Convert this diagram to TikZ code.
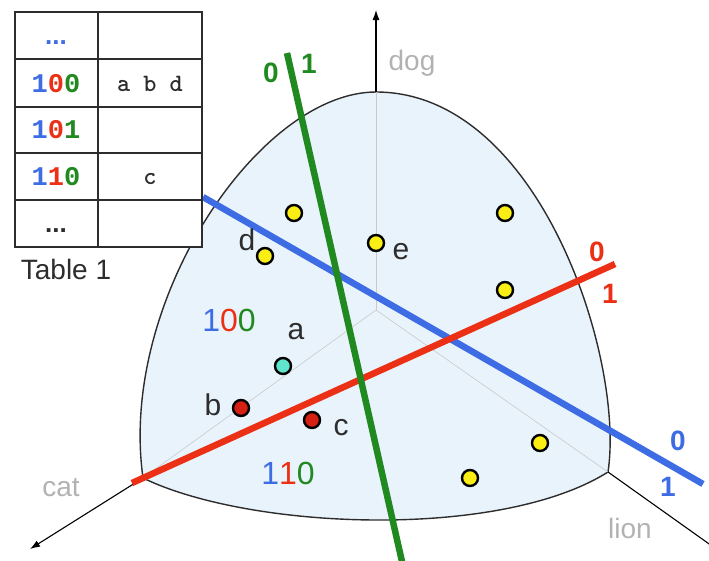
\documentclass[tikz,border=0pt]{standalone}
\usepackage{fontspec}
\setmainfont{Liberation Sans}
\newfontfamily\bitsfont{Liberation Mono}
\usetikzlibrary{arrows.meta}
\definecolor{surf}{RGB}{233,243,252}
\definecolor{gB}{RGB}{62,108,228}
\definecolor{gR}{RGB}{236,48,22}
\definecolor{gG}{RGB}{32,138,32}
\definecolor{axg}{RGB}{178,178,178}
\definecolor{ptY}{RGB}{250,238,20}
\definecolor{ptC}{RGB}{95,228,205}
\definecolor{ptR}{RGB}{215,32,20}
\definecolor{ink}{RGB}{45,45,45}
\begin{document}
\begin{tikzpicture}[x=1pt,y=-1pt,
  ptnode/.style={circle,draw=black,line width=2.4pt,minimum size=16pt,inner sep=0pt},
  splitline/.style={line width=6.5pt},
  axisline/.style={line width=1.1pt,black,-{Latex[length=10pt,width=7pt]}},
  guide/.style={line width=0.6pt,axg!70},
  axlabel/.style={text=axg,font=\fontsize{28}{32}\selectfont,inner sep=0pt},
  ptlabel/.style={text=ink,font=\fontsize{30}{34}\selectfont,inner sep=0pt},
  bitlabel/.style={font=\fontsize{28}{32}\selectfont\bfseries,inner sep=0pt},
  regionlabel/.style={font=\fontsize{32}{36}\selectfont,inner sep=0pt},
  cellbits/.style={font=\fontsize{27}{30}\selectfont\bitsfont\bfseries,inner sep=0pt},
  celldots/.style={font=\fontsize{26}{30}\selectfont\bfseries,inner sep=0pt},
  celltext/.style={font=\fontsize{25}{28}\selectfont\ttfamily\bfseries,text=ink,inner sep=0pt},
  tabline/.style={line width=1.8pt,ink}
]
\useasboundingbox (0,0) rectangle (709,560);

% vertices
\coordinate (dogv) at (376,92);
\coordinate (catv) at (143,478);
\coordinate (lionv) at (608,472);
\coordinate (ctr) at (376,310);
\coordinate (dogtip) at (376,10);
\coordinate (cattip) at (30,549);
\coordinate (liontip) at (712,546);

% surface
\filldraw[fill=surf,draw=ink,line width=1.4pt]
  (dogv) .. controls (260,92) and (118,300) .. (catv)
  .. controls (250,530) and (500,540) .. (lionv)
  .. controls (625,360) and (540,92) .. (dogv) -- cycle;

% guide lines inside
\draw[guide] (ctr) -- (dogv);
\draw[guide] (ctr) -- (catv);
\draw[guide] (ctr) -- (lionv);

% axes
\draw[axisline] (dogv) -- (dogtip);
\draw[axisline] (catv) -- (cattip);
\draw[line width=1.1pt,black] (lionv) -- (liontip);

\node[axlabel] (doglab) at (412,63) {dog};
\node[axlabel] (catlab) at (61,488) {cat};
\node[axlabel] (lionlab) at (630,528) {lion};

% splitting lines
\coordinate (gA) at (287,53);
\coordinate (gZ) at (403,566);
\coordinate (bA) at (203,197);
\coordinate (bZ) at (703,484);
\coordinate (rA) at (132,483);
\coordinate (rZ) at (615,264);
\draw[splitline,gB] (bA) -- (bZ);
\draw[splitline,gR] (rA) -- (rZ);
\draw[splitline,gG] (gA) -- (gZ);

\node[bitlabel,text=gG] (g0) at (271,73) {0};
\node[bitlabel,text=gG] (g1) at (309,64) {1};
\node[bitlabel,text=gR] (r0) at (597,252) {0};
\node[bitlabel,text=gR] (r1) at (610,294) {1};
\node[bitlabel,text=gB] (b0) at (678,441) {0};
\node[bitlabel,text=gB] (b1) at (668,487) {1};

% points
\node[ptnode,fill=ptY] (y1) at (294,213) {};
\node[ptnode,fill=ptY] (pd) at (265,256) {};
\node[ptnode,fill=ptY] (pe) at (376,243) {};
\node[ptnode,fill=ptY] (y2) at (505,213) {};
\node[ptnode,fill=ptY] (y3) at (505,290) {};
\node[ptnode,fill=ptY] (y4) at (540,443) {};
\node[ptnode,fill=ptY] (y5) at (470,478) {};
\node[ptnode,fill=ptC] (pa) at (283,366) {};
\node[ptnode,fill=ptR] (pb) at (241,408) {};
\node[ptnode,fill=ptR] (pc) at (312,420) {};

\node[ptlabel] (ld) at (247,240) {d};
\node[ptlabel] (le) at (401,252) {e};
\node[ptlabel] (la) at (296,332) {a};
\node[ptlabel] (lb) at (213,405) {b};
\node[ptlabel] (lc) at (341,428) {c};

\node[regionlabel] (r100) at (229,320) {\textcolor{gB}{1}\textcolor{gR}{0}\textcolor{gG}{0}};
\node[regionlabel] (r110) at (288,473) {\textcolor{gB}{1}\textcolor{gR}{1}\textcolor{gG}{0}};

% table
\fill[white] (15,12) rectangle (202,247);
\draw[tabline] (15,12) rectangle (202,247);
\draw[tabline] (98,12) -- (98,247);
\draw[tabline] (15,59) -- (202,59);
\draw[tabline] (15,107) -- (202,107);
\draw[tabline] (15,153) -- (202,153);
\draw[tabline] (15,200) -- (202,200);

\node[celldots,text=gB] (t1) at (56,43) {...};
\node[cellbits] (t2) at (56,84) {\textcolor{gB}{1}\textcolor{gR}{0}\textcolor{gG}{0}};
\node[celltext] (t2b) at (150,84) {a b d};
\node[cellbits] (t3) at (56,130) {\textcolor{gB}{1}\textcolor{gR}{0}\textcolor{gG}{1}};
\node[cellbits] (t4) at (56,177) {\textcolor{gB}{1}\textcolor{gR}{1}\textcolor{gG}{0}};
\node[celltext] (t4b) at (150,179) {c};
\node[celldots,text=ink] (t5) at (56,231) {...};
\node[font=\fontsize{28}{32}\selectfont,text=ink,inner sep=0pt] (tcap) at (66,269) {Table 1};
\end{tikzpicture}
\end{document}
